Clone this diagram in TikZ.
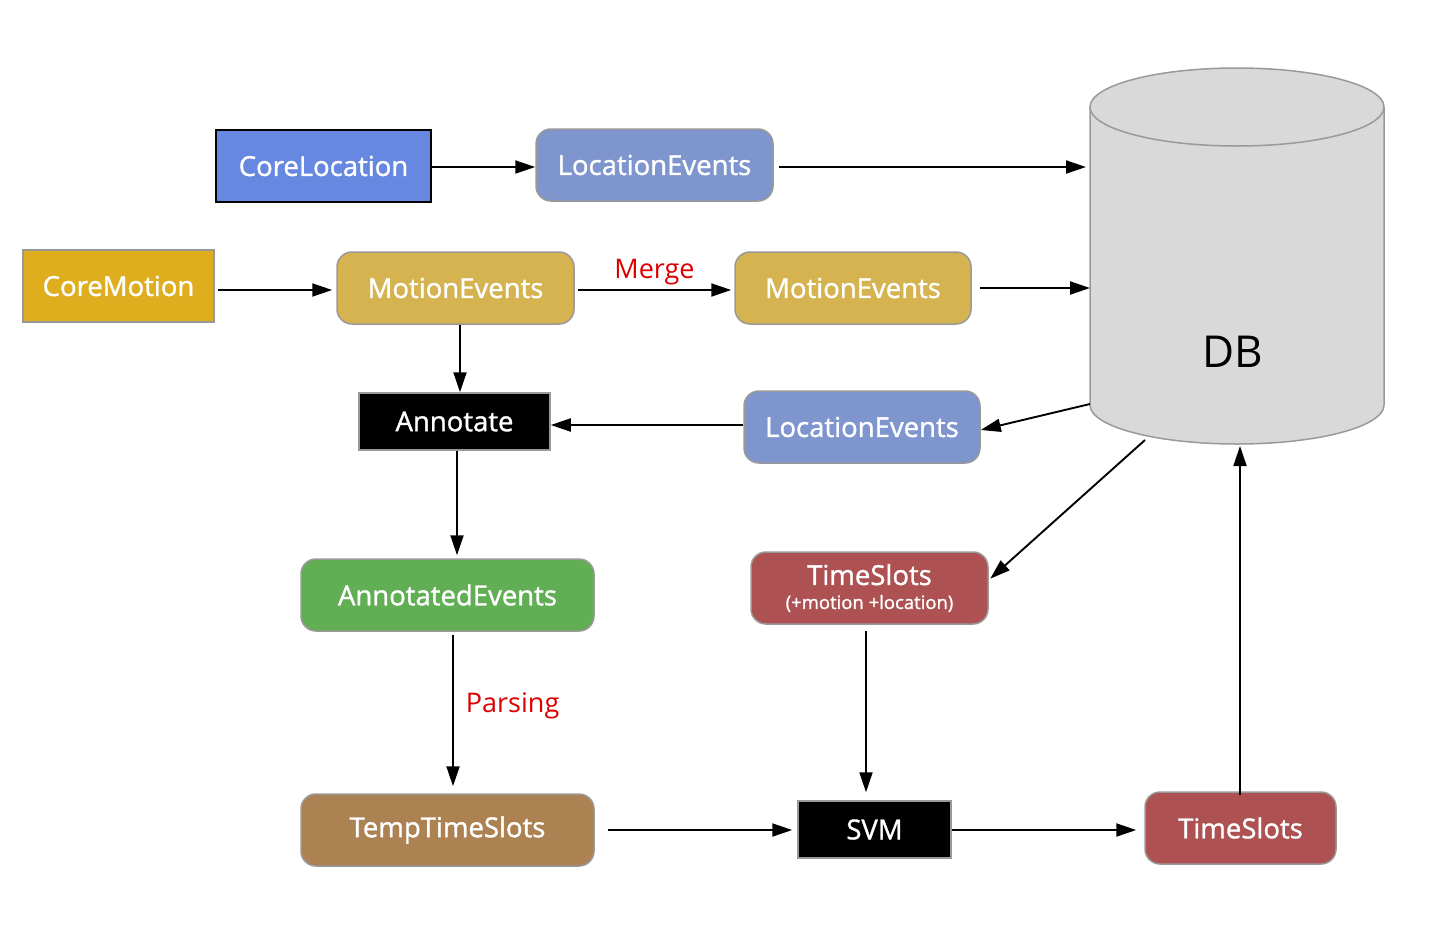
\documentclass[tikz,border=0pt]{standalone}
\usepackage{fontspec}
\setmainfont{Open Sans}
\newfontfamily\boxfont[FakeBold=1.2]{Open Sans}
\usetikzlibrary{arrows.meta}
\definecolor{cloc}{HTML}{6788E1}
\definecolor{cevt}{HTML}{7F95CD}
\definecolor{cmot}{HTML}{DEAE1F}
\definecolor{cmev}{HTML}{D5B350}
\definecolor{cann}{HTML}{62AE55}
\definecolor{ctmp}{HTML}{AD8252}
\definecolor{cslot}{HTML}{AD5152}
\definecolor{cdb}{HTML}{D9D9D9}
\definecolor{cbord}{HTML}{999999}
\definecolor{cred}{HTML}{DD0000}
\tikzset{
  box/.style={draw=cbord, line width=1.5bp, text=white, inner sep=0pt,
    font=\boxfont\fontsize{27.5bp}{31bp}\selectfont, minimum height=72bp},
  rbox/.style={box, rounded corners=15bp},
  sqbox/.style={box},
  arr/.style={-{Triangle[length=20bp,width=13bp]}, line width=1.9bp, black},
  lbl/.style={text=cred, font=\fontsize{27bp}{30bp}\selectfont, inner sep=0pt}
}
\begin{document}
\begin{tikzpicture}[x=1bp,y=-1bp]
\useasboundingbox (0,0) rectangle (1436,930);
% database cylinder
\path[fill=cdb, draw=cbord, line width=1.5bp]
  (1090,107) -- (1090,405)
  arc[start angle=180, end angle=360, x radius=147bp, y radius=39bp]
  -- (1384,107)
  arc[start angle=0, end angle=180, x radius=147bp, y radius=39bp] -- cycle;
\draw[cbord, line width=1.5bp] (1090,107)
  arc[start angle=180, end angle=360, x radius=147bp, y radius=39bp];
\node[font=\fontsize{44bp}{50bp}\selectfont, inner sep=0pt] (DB) at (1233,352) {DB};
\coordinate (db1) at (1086,167);
\coordinate (db2) at (1090,288);
\coordinate (db3) at (1090,404);
\coordinate (db4) at (1240,446);
\coordinate (db5) at (1145,440);

% nodes
\node[sqbox, draw=black, fill=cloc, minimum width=215bp] (CL) at (323.5,166) {CoreLocation};
\node[rbox, fill=cevt, minimum width=237bp] (LE1) at (654.5,165) {LocationEvents};
\node[sqbox, fill=cmot, minimum width=191bp] (CM) at (118.5,286) {CoreMotion};
\node[rbox, fill=cmev, minimum width=237bp] (ME1) at (455.5,288) {MotionEvents};
\node[rbox, fill=cmev, minimum width=236bp] (ME2) at (853,288) {MotionEvents};
\node[sqbox, fill=black, minimum width=191bp, minimum height=57bp] (AN) at (454.5,421.5) {Annotate};
\node[rbox, fill=cevt, minimum width=236bp] (LE2) at (862,427) {LocationEvents};
\node[rbox, fill=cann, minimum width=293bp] (AE) at (447.5,595) {AnnotatedEvents};
\node[rbox, fill=ctmp, minimum width=293bp] (TT) at (447.5,830) {TempTimeSlots};
\node[sqbox, fill=black, minimum width=153bp, minimum height=57bp] (SVM) at (874.5,829.5) {SVM};
\node[rbox, fill=cslot, minimum width=191bp] (TS) at (1240.5,828) {TimeSlots};
\node[rbox, fill=cslot, minimum width=237bp, align=center] (TSM) at (869.5,588)
  {TimeSlots\\[-7bp]{\fontsize{18.5bp}{21bp}\selectfont (+motion +location)}};

% connectors
\draw[arr] (CL.east |- 0,167) -- (LE1.west |- 0,167);
\draw[arr, shorten <=5bp] (LE1.east |- db1) -- (db1);
\draw[arr, shorten <=3bp, shorten >=4bp] (CM.east |- 0,290) -- (ME1.west |- 0,290);
\draw[arr, shorten <=3bp, shorten >=3bp] (ME1.east |- 0,290) -- node[lbl, above=4bp] (mg) {Merge} (ME2.west |- 0,290);
\draw[arr, shorten <=8bp] (ME2.east) -- (db2);
\draw[arr] (ME1.south -| 460,0) -- (AN.north -| 460,0);
\draw[arr] (LE2.west |- 0,425) -- (AN.east |- 0,425);
\draw[arr] (db3) -- (LE2.east |- 0,430);
\draw[arr, shorten >=3bp] (AN.south -| 457,0) -- (AE.north -| 457,0);
\draw[arr, shorten <=3bp, shorten >=7bp] (AE.south -| 453,0) -- node[lbl, right=12bp, pos=0.46] (ps) {Parsing} (TT.north -| 453,0);
\draw[arr, shorten <=13bp, shorten >=5bp] (TT.east |- 0,830) -- (SVM.west |- 0,830);
\draw[arr, shorten >=8bp] (SVM.east |- 0,830) -- (TS.west |- 0,830);
\draw[arr, shorten <=-4bp] (TS.north -| db4) -- (db4);
\draw[arr, shorten >=2bp] (db5) -- (TSM.east |- 0,580);
\draw[arr, shorten <=6bp, shorten >=8bp] (TSM.south -| 866,0) -- (SVM.north -| 866,0);
\end{tikzpicture}
\end{document}
